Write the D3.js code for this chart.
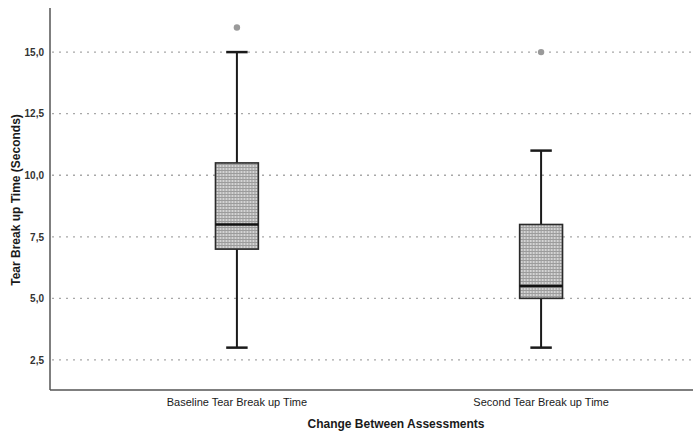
<!DOCTYPE html>
<html>
<head>
<meta charset="utf-8">
<script src="https://cdn.jsdelivr.net/npm/d3@7"></script>
<style>
    body { margin: 0; background: #fff; }
    text { font-family: "Liberation Sans", Arial, sans-serif; fill: #1a1a1a; }
    .tick-label { font-size: 10px; font-weight: bold; fill: #333; }
    .cat-label { font-size: 11px; }
    .title { font-size: 12px; font-weight: bold; }
</style>
</head>
<body>
<div id="vis"></div>
<script>
// Categories and five-number summaries
var categories = ['Baseline Tear Break up Time', 'Second Tear Break up Time'];
var lowWhisker = [3, 3];
var q1 = [7, 5];
var median = [8, 5.5];
var q3 = [10.5, 8];
var highWhisker = [15, 11];
var outliers = [[16], [15]];
var yTicks = [2.5, 5, 7.5, 10, 12.5, 15];

var width = 693;
var height = 436;
var margin = { left: 50, right: 0, top: 8, bottom: 46 };
var drawWidth = width - margin.left - margin.right;
var drawHeight = height - margin.top - margin.bottom;

var svg = d3.select('#vis').append('svg')
    .attr('width', width)
    .attr('height', height);

// Fine grid fill for the boxes
var pattern = svg.append('defs').append('pattern')
    .attr('id', 'hatch')
    .attr('width', 3)
    .attr('height', 3)
    .attr('patternUnits', 'userSpaceOnUse');
pattern.append('rect').attr('width', 3).attr('height', 3).attr('fill', '#d4d4d4');
pattern.append('rect').attr('width', 3).attr('height', 1).attr('fill', '#9c9c9c');
pattern.append('rect').attr('width', 1).attr('height', 3).attr('fill', '#9c9c9c');

var g = svg.append('g')
    .attr('transform', 'translate(' + margin.left + ',' + margin.top + ')');

var yScale = d3.scaleLinear()
    .domain([1.28, 16.79])
    .range([drawHeight, 0]);

var xScale = d3.scaleBand()
    .domain(categories)
    .range([0, 678])
    .paddingInner(0.859)
    .paddingOuter(0.544);

// Dotted gridlines
g.selectAll('.grid').data(yTicks).enter().append('line')
    .attr('class', 'grid')
    .attr('x1', 2)
    .attr('x2', drawWidth)
    .attr('y1', function(d) { return yScale(d); })
    .attr('y2', function(d) { return yScale(d); })
    .attr('stroke', '#a8a8a8')
    .attr('stroke-width', 1.3)
    .attr('stroke-dasharray', '2,5');

// Y axis
var yAxis = d3.axisLeft(yScale)
    .tickValues(yTicks)
    .tickSize(0)
    .tickPadding(6)
    .tickFormat(function(d) { return d3.format('.1f')(d).replace('.', ','); });
var yAxisG = g.append('g').call(yAxis);
yAxisG.select('.domain').remove();
yAxisG.selectAll('text').attr('class', 'tick-label').attr('font-family', null).attr('font-size', null);

// Axis lines
g.append('line').attr('x1', 0).attr('x2', 0).attr('y1', 0).attr('y2', drawHeight)
    .attr('stroke', '#555').attr('stroke-width', 1.5);
g.append('line').attr('x1', 0).attr('x2', drawWidth).attr('y1', drawHeight).attr('y2', drawHeight)
    .attr('stroke', '#555').attr('stroke-width', 1.5);

// X axis category labels
var xAxis = d3.axisBottom(xScale).tickSize(0).tickPadding(8);
var xAxisG = g.append('g').attr('transform', 'translate(0,' + drawHeight + ')').call(xAxis);
xAxisG.select('.domain').remove();
xAxisG.selectAll('text').attr('class', 'cat-label').attr('font-family', null).attr('font-size', null);

// Boxes
var data = categories.map(function(c, i) {
    return { cat: c, lo: lowWhisker[i], q1: q1[i], med: median[i], q3: q3[i], hi: highWhisker[i], out: outliers[i] };
});

var box = g.selectAll('.box').data(data).enter().append('g')
    .attr('class', 'box')
    .attr('transform', function(d) { return 'translate(' + xScale(d.cat) + ',0)'; });
var bw = xScale.bandwidth();

// whiskers
box.append('line')
    .attr('x1', bw / 2).attr('x2', bw / 2)
    .attr('y1', function(d) { return yScale(d.hi); })
    .attr('y2', function(d) { return yScale(d.lo); })
    .attr('stroke', '#1a1a1a').attr('stroke-width', 2);
box.selectAll('.cap').data(function(d) { return [d.lo, d.hi]; }).enter().append('line')
    .attr('x1', bw / 4).attr('x2', bw * 3 / 4)
    .attr('y1', function(d) { return yScale(d); })
    .attr('y2', function(d) { return yScale(d); })
    .attr('stroke', '#1a1a1a').attr('stroke-width', 2.5);

// box
box.append('rect')
    .attr('x', 0)
    .attr('width', bw)
    .attr('y', function(d) { return yScale(d.q3); })
    .attr('height', function(d) { return yScale(d.q1) - yScale(d.q3); })
    .attr('fill', 'url(#hatch)')
    .attr('stroke', '#2a2a2a')
    .attr('stroke-width', 1.6);

// median
box.append('line')
    .attr('x1', 0).attr('x2', bw)
    .attr('y1', function(d) { return yScale(d.med); })
    .attr('y2', function(d) { return yScale(d.med); })
    .attr('stroke', '#111').attr('stroke-width', 2.5);

// outliers
box.selectAll('.out').data(function(d) { return d.out; }).enter().append('circle')
    .attr('cx', bw / 2)
    .attr('cy', function(d) { return yScale(d); })
    .attr('r', 3.2)
    .attr('fill', '#9a9a9a');

// Titles
svg.append('text')
    .attr('class', 'title')
    .attr('text-anchor', 'middle')
    .attr('x', 396)
    .attr('y', 428)
    .text('Change Between Assessments');

svg.append('text')
    .attr('class', 'title')
    .attr('text-anchor', 'middle')
    .attr('transform', 'translate(20,' + (margin.top + 192) + ') rotate(-90)')
    .text('Tear Break up Time (Seconds)');
</script>
</body>
</html>
